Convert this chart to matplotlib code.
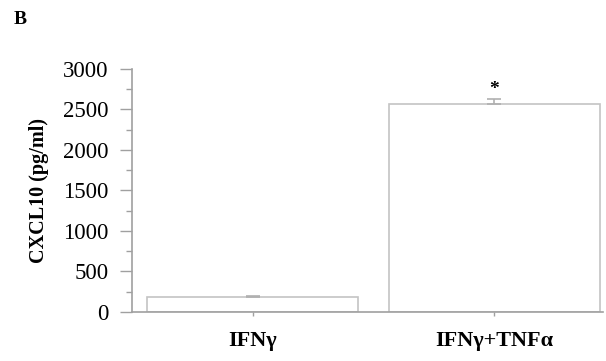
import matplotlib.pyplot as plt
import numpy as np

groups = ['IFN\u03b3', 'IFN\u03b3+TNF\u03b1']
means = [180, 2570]
errs = [12, 60]
yticks = [0, 500, 1000, 1500, 2000, 2500, 3000]

plt.rcParams['font.family'] = ['Liberation Serif', 'DejaVu Serif']

fig = plt.figure(figsize=(6.06, 3.61), dpi=100)
ax = fig.add_axes([0.218, 0.136, 0.777, 0.673])

x = np.arange(len(groups))
ax.bar(x, means, width=0.875, color='white', edgecolor='#c4c4c4', linewidth=1.2, zorder=2)
ax.errorbar(x, means, yerr=[np.zeros(len(errs)), errs], fmt='none',
            ecolor='#b0b0b0', elinewidth=1.2, capsize=5, capthick=1.2, zorder=3)
ax.text(x[1], means[1] + errs[1] + 120, '*', ha='center', va='center',
        fontsize=14, fontweight='bold')

ax.set_xlim(-0.5, 1.45)
ax.set_ylim(0, 3000)
ax.set_yticks(yticks)
ax.set_yticks(np.arange(250, 3000, 500), minor=True)
ax.set_xticks(x)
ax.set_xticklabels(groups, fontsize=16, fontweight='bold')
ax.tick_params(axis='y', labelsize=16.5, length=9, width=1, color='#a0a0a0', pad=8)
ax.tick_params(axis='y', which='minor', length=4, width=1, color='#a0a0a0')
ax.tick_params(axis='x', length=3, width=1, color='#a0a0a0', pad=11)

for s in ['top', 'right']:
    ax.spines[s].set_visible(False)
for s in ['left', 'bottom']:
    ax.spines[s].set_color('#a0a0a0')
    ax.spines[s].set_linewidth(1.2)

ax.set_ylabel('CXCL10 (pg/ml)', fontsize=14.5, fontweight='bold', labelpad=10)
fig.text(0.022, 0.945, 'B', fontsize=14, fontweight='bold', va='center')

fig.savefig('out.png', dpi=100)
